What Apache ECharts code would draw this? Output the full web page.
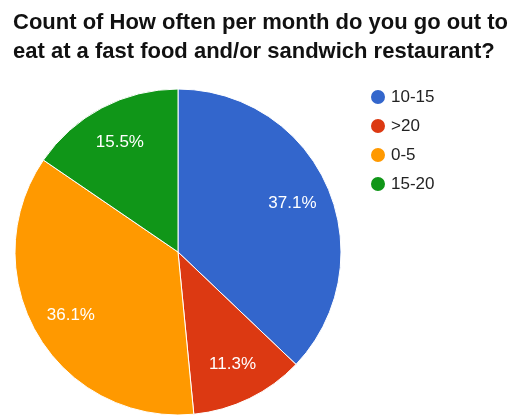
<!DOCTYPE html>
<html>
<head>
<meta charset="utf-8">
<script src="https://cdn.jsdelivr.net/npm/echarts@6/dist/echarts.min.js"></script>
<style>
  html, body { margin: 0; padding: 0; background: #fff; }
  #chart { width: 530px; height: 415px; }
</style>
</head>
<body>
<div id="chart"></div>
<script>
var categories = ['10-15', '>20', '0-5', '15-20']
var counts = [36, 11, 35, 15]
var colors = ['#3366cc', '#dc3912', '#ff9900', '#109618']

var pieData = categories.map(function (name, i) {
  return { name: name, value: counts[i] }
})

var chart = echarts.init(document.getElementById('chart'))
chart.setOption({
  animation: false,
  color: colors,
  title: {
    text: 'Count of How often per month do you go out to\neat at a fast food and/or sandwich restaurant?',
    left: 8,
    top: 3,
    textStyle: {
      fontFamily: 'Liberation Sans, Arial, sans-serif',
      fontSize: 22,
      fontWeight: 'bold',
      color: '#111',
      lineHeight: 29
    }
  },
  legend: {
    orient: 'vertical',
    left: 364,
    top: 83,
    icon: 'circle',
    itemWidth: 16,
    itemHeight: 16,
    itemGap: 11,
    data: categories,
    textStyle: {
      fontFamily: 'Liberation Sans, Arial, sans-serif',
      fontSize: 17,
      color: '#222'
    }
  },
  series: [
    {
      // slices
      type: 'pie',
      center: [178, 252],
      radius: 163,
      startAngle: 90,
      clockwise: true,
      silent: true,
      data: pieData,
      itemStyle: { borderColor: '#fff', borderWidth: 1 },
      label: { show: false },
      labelLine: { show: false }
    },
    {
      // transparent ring, only used to put the % labels further out
      type: 'pie',
      center: [178, 252],
      radius: [80, 163],
      startAngle: 90,
      clockwise: true,
      silent: true,
      data: pieData,
      itemStyle: { color: 'transparent' },
      label: {
        show: true,
        position: 'inside',
        color: '#fff',
        fontFamily: 'Liberation Sans, Arial, sans-serif',
        fontSize: 17,
        formatter: function (p) {
          return p.percent.toFixed(1) + '%'
        }
      },
      labelLine: { show: false }
    }
  ]
})
</script>
</body>
</html>
